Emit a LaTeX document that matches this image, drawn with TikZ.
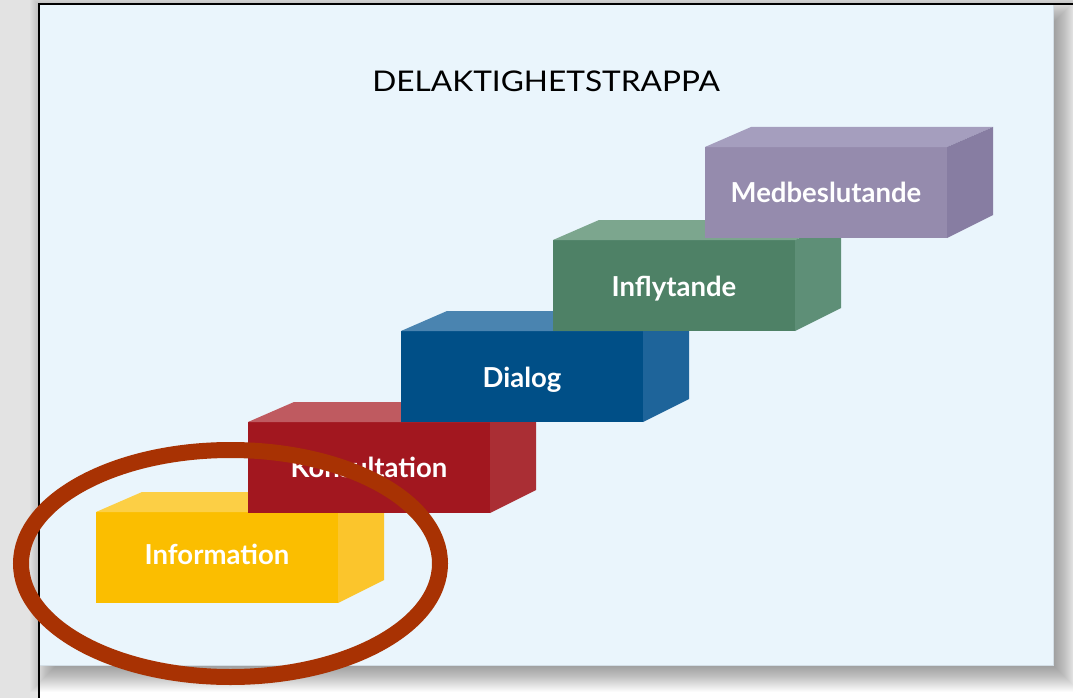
\documentclass[tikz,border=0pt]{standalone}
\usepackage{fontspec}
\setmainfont{Lato}
\usetikzlibrary{shapes.geometric}
\definecolor{bggray}{HTML}{E3E3E3}
\definecolor{panel}{HTML}{EAF5FC}
\definecolor{panelline}{HTML}{D3DEE6}
\definecolor{ring}{HTML}{A83203}
\definecolor{infoF}{HTML}{FBBE00}
\definecolor{infoT}{HTML}{FCCF45}
\definecolor{infoS}{HTML}{FBC52C}
\definecolor{konsF}{HTML}{A2171F}
\definecolor{konsT}{HTML}{BF5A60}
\definecolor{konsS}{HTML}{AA2E34}
\definecolor{dialF}{HTML}{004F87}
\definecolor{dialT}{HTML}{4A84B0}
\definecolor{dialS}{HTML}{1E649A}
\definecolor{inflF}{HTML}{4E8166}
\definecolor{inflT}{HTML}{7CA68E}
\definecolor{inflS}{HTML}{5E8F77}
\definecolor{medF}{HTML}{958BAD}
\definecolor{medT}{HTML}{A59EBE}
\definecolor{medS}{HTML}{877DA2}
\newcommand\stairbox[8]{%
  \node[frontface, fill=#4, anchor=north west] (#1) at (#2,#3) {};
  \fill[#5] (#1.north west) -- ++(46,-20) -- ++(242,0) -- (#1.north east) -- cycle;
  \fill[#6] (#1.north east) -- ++(46,-20) -- ([shift={(46,-23)}]#1.south east) -- (#1.south east) -- cycle;
  \node[steplabel] (#1-label) at ([yshift=-#8pt]#1.north) {#7};
}
\begin{document}
\begin{tikzpicture}[x=1pt,y=-1pt,
  frontface/.style={rectangle, inner sep=0pt, outer sep=0pt, minimum width=242pt, minimum height=91pt},
  steplabel/.style={font=\bfseries\fontsize{27.5}{30}\selectfont, text=white, anchor=base, inner sep=0pt},
  titlelabel/.style={font=\fontsize{28.5}{32}\selectfont, text=black, anchor=base, inner sep=0pt},
  highlight/.style={draw=ring, ellipse, line width=16pt, inner sep=0pt, minimum width=419pt, minimum height=227pt}]
\useasboundingbox (0,0) rectangle (1073,698);
\fill[bggray] (0,0) rectangle (1073,698);
\fill[white] (39,5) rectangle (1073,698);
% soft shadow
\foreach \k in {0,...,35}
  \fill[black,opacity=0.016] (30+\k,-4+\k) rectangle (1080-\k,692-\k);
% panel
\fill[panel] (39,5) rectangle (1053,665);
\draw[panelline, line width=0.8pt] (1053,5) -- (1053,665) -- (39,665);
% frame
\draw[black, line width=2pt] (38.5,698) -- (38.5,4.5) -- (1073,4.5);
% title
\node[titlelabel] (title) at (546,92) {\scalebox{1.11}[1]{DELAKTIGHETSTRAPPA}};
% steps
\stairbox{info}{96}{512}{infoF}{infoT}{infoS}{Information}{52}
\stairbox{kons}{248}{422}{konsF}{konsT}{konsS}{Konsultation}{55}
\stairbox{dial}{401}{331}{dialF}{dialT}{dialS}{Dialog}{56}
\stairbox{infl}{553}{240}{inflF}{inflT}{inflS}{Inflytande}{56}
\stairbox{med}{705}{147}{medF}{medT}{medS}{Medbeslutande}{55}
% highlight ring
\node[highlight] (ring) at (230.5,563.5) {};
\end{tikzpicture}
\end{document}
